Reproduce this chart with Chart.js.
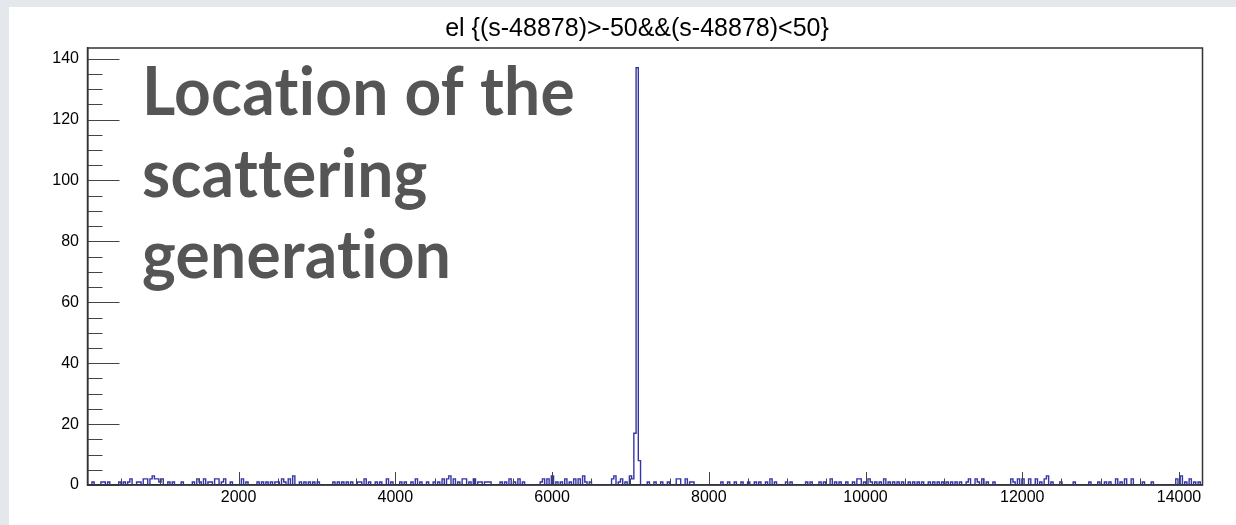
<!DOCTYPE html>
<html>
<head>
<meta charset="utf-8">
<script src="https://cdn.jsdelivr.net/npm/chart.js@4"></script>
<style>
  html, body { margin: 0; padding: 0; background: #e4e7eb; }
  #wrap { position: relative; width: 1236px; height: 525px; }
</style>
</head>
<body>
<div id="wrap"><canvas id="histo" width="1236" height="525"></canvas></div>
<script>
'use strict';

// histogram range / binning
const xMin = 72, xMax = 14300, nBins = 500;

// the big spike (bin position -> entries)
const peakX = [7070, 7098, 7126];
const peakCounts = [17, 137, 8];

// background entries
const noiseX = [138, 250, 290, 340, 480, 540, 600, 640, 700, 740, 790, 830, 870, 900, 930, 960, 1000, 1020,
    1100, 1170, 1290, 1420, 1480, 1520, 1570, 1620, 1660, 1700, 1740, 1780, 1830, 1920, 2060, 2120, 2240,
    2300, 2360, 2420, 2470, 2510, 2560, 2600, 2650, 2690, 2780, 2840, 2900, 2970, 3010, 3210, 3260, 3320,
    3380, 3440, 3520, 3560, 3620, 3680, 3760, 3820, 3900, 3960, 4060, 4120, 4200, 4260, 4320, 4400, 4490,
    4540, 4600, 4660, 4700, 4760, 4820, 4860, 4900, 4950, 5000, 5060, 5100, 5160, 5190, 5220, 5340, 5400,
    5460, 5520, 5580, 5640, 5850, 5900, 5960, 6010, 6060, 6120, 6180, 6240, 6300, 6350, 6390, 6440, 6500,
    6760, 6800, 6860, 6900, 6950, 6990, 7030, 7220, 7300, 7390, 7480, 7600, 7640, 7700, 7760, 7790, 8160,
    8260, 8350, 8420, 8520, 8600, 8640, 8750, 8800, 8860, 8990, 9060, 9260, 9320, 9420, 9480, 9560, 9620,
    9680, 9760, 9860, 9900, 9940, 9980, 10040, 10080, 10130, 10180, 10240, 10300, 10350, 10420, 10480,
    10560, 10620, 10680, 10740, 10800, 10860, 10920, 10980, 11040, 11100, 11160, 11220, 11290, 11340,
    11400, 11440, 11500, 11560, 11640, 11860, 11900, 11960, 12020, 12100, 12170, 12230, 12280, 12330,
    12380, 12480, 12670, 12860, 12980, 13060, 13130, 13200, 13260, 13320, 13400, 13560, 13660, 13980,
    14030, 14080, 14140, 14200, 14250];
const noiseCounts = [1, 1, 1, 1, 1, 1, 1, 2, 1, 1, 2, 2, 2, 3, 2, 2, 1, 2,
    1, 1, 1, 1, 2, 1, 2, 1, 1, 2, 2, 1, 2, 1, 2, 1, 1,
    1, 1, 1, 1, 1, 2, 1, 2, 3, 1, 1, 1, 1, 1, 1, 1, 1,
    1, 1, 1, 1, 2, 1, 1, 1, 2, 1, 1, 1, 1, 2, 1, 1, 1,
    1, 2, 2, 3, 2, 1, 2, 2, 1, 2, 1, 1, 1, 1, 1, 1, 1,
    2, 1, 2, 1, 1, 2, 2, 3, 1, 1, 2, 1, 2, 2, 3, 1, 1,
    2, 3, 1, 2, 1, 3, 2, 1, 1, 1, 1, 2, 2, 2, 1, 1, 1,
    1, 1, 1, 1, 1, 1, 1, 2, 1, 1, 1, 1, 1, 1, 1, 2, 1,
    1, 1, 1, 2, 2, 1, 2, 1, 1, 1, 2, 1, 1, 1, 1,
    1, 1, 1, 1, 1, 1, 1, 1, 1, 1, 1, 1, 1, 2,
    2, 1, 2, 1, 1, 2, 1, 2, 2, 2, 2, 1, 2, 3,
    1, 1, 1, 1, 1, 1, 1, 2, 1, 2, 2, 1, 1, 2,
    3, 1, 2, 1, 1];

// axis labels
const xTicks = [2000, 4000, 6000, 8000, 10000, 12000, 14000];
const yTicks = [0, 20, 40, 60, 80, 100, 120, 140];

const titleText = 'el {(s-48878)>-50&&(s-48878)<50}';
const noteLines = ['Location of the', 'scattering', 'generation'];

// fill the bins
const binW = (xMax - xMin) / nBins;
const counts = new Array(nBins).fill(0);
function fill(xs, ws) {
    xs.forEach((x, i) => {
        const b = Math.floor((x - xMin) / binW);
        if (b >= 0 && b < nBins) counts[b] += ws[i];
    });
}
fill(noiseX, noiseCounts);
fill(peakX, peakCounts);

const points = counts.map((c, i) => ({x: xMin + i * binW, y: c}));
points.push({x: xMax, y: counts[nBins - 1]});

// grey page + white slide
const backdrop = {
    id: 'backdrop',
    beforeDraw(chart) {
        const ctx = chart.ctx;
        ctx.save();
        ctx.fillStyle = '#e4e7eb';
        ctx.fillRect(0, 0, chart.width, chart.height);
        ctx.fillStyle = '#ffffff';
        ctx.fillRect(9, 7, chart.width - 9, chart.height - 7);
        ctx.restore();
    }
};

// ROOT style frame with inward ticks, title and the slide note
const rootFrame = {
    id: 'rootFrame',
    afterDatasetsDraw(chart) {
        const {ctx, chartArea: a, scales: {x, y}} = chart;
        ctx.save();
        ctx.strokeStyle = '#444';
        ctx.lineWidth = 1;
        ctx.beginPath();
        for (let v = 0; v <= y.max; v += 5) {
            const py = Math.round(y.getPixelForValue(v)) + 0.5;
            const len = v % 20 === 0 ? 32 : 15;
            ctx.moveTo(a.left, py);
            ctx.lineTo(a.left + len, py);
        }
        for (let v = 500; v <= x.max; v += 500) {
            if (v < x.min) continue;
            const px = Math.round(x.getPixelForValue(v)) + 0.5;
            const len = v % 2000 === 0 ? 13 : 6.5;
            ctx.moveTo(px, a.bottom);
            ctx.lineTo(px, a.bottom - len);
        }
        ctx.stroke();
        // frame
        ctx.strokeStyle = '#333';
        ctx.lineWidth = 1.5;
        ctx.strokeRect(a.left, a.top, a.right - a.left, a.bottom - a.top);
        ctx.restore();
    },
    afterDraw(chart) {
        const ctx = chart.ctx;
        ctx.save();
        // histogram title
        ctx.fillStyle = '#000';
        ctx.font = '25px "Liberation Sans", Arial, sans-serif';
        ctx.textAlign = 'center';
        ctx.textBaseline = 'middle';
        ctx.fillText(titleText, 637, 29);

        // note
        ctx.textAlign = 'left';
        ctx.textBaseline = 'alphabetic';
        ctx.fillStyle = '#555555';
        ctx.font = 'bold 66px Lato';
        ctx.textRendering = 'optimizeSpeed';
        ctx.letterSpacing = '0.3px';
        const w = ctx.measureText(noteLines[0]).width;
        const sx = 433 / w;
        const baselines = [115, 197, 278];
        noteLines.forEach((t, i) => {
            ctx.save();
            ctx.translate(142, baselines[i]);
            ctx.scale(sx, 1);
            ctx.fillText(t, 0, 0);
            ctx.restore();
        });
        ctx.restore();
    }
};

Chart.defaults.font.family = '"Liberation Sans", Arial, sans-serif';
Chart.defaults.color = '#000';

new Chart(document.getElementById('histo'), {
    type: 'line',
    data: {
        datasets: [{
            data: points,
            stepped: true,
            borderColor: '#3434a8',
            borderWidth: 1.4,
            pointRadius: 0,
            fill: false
        }]
    },
    options: {
        responsive: false,
        devicePixelRatio: 1,
        animation: false,
        layout: {padding: {top: 48, right: 33.5, bottom: 0, left: 0}},
        plugins: {
            legend: {display: false},
            tooltip: {enabled: false},
            title: {display: false}
        },
        scales: {
            x: {
                type: 'linear', min: xMin, max: xMax,
                afterFit: s => { s.height = 40; },
                afterBuildTicks: s => { s.ticks = xTicks.map(v => ({value: v})); },
                grid: {drawOnChartArea: false, drawTicks: false},
                border: {color: '#222', width: 1.5},
                ticks: {font: {size: 16}, padding: 3, maxRotation: 0, callback: v => String(v)}
            },
            y: {
                min: 0, max: 143.5,
                afterFit: s => { s.width = 87.5; },
                afterBuildTicks: s => { s.ticks = yTicks.map(v => ({value: v})); },
                grid: {drawOnChartArea: false, drawTicks: false},
                border: {color: '#222', width: 1.5},
                ticks: {font: {size: 16}, padding: 8.5, callback: v => String(v)}
            }
        }
    },
    plugins: [backdrop, rootFrame]
});
</script>
</body>
</html>
